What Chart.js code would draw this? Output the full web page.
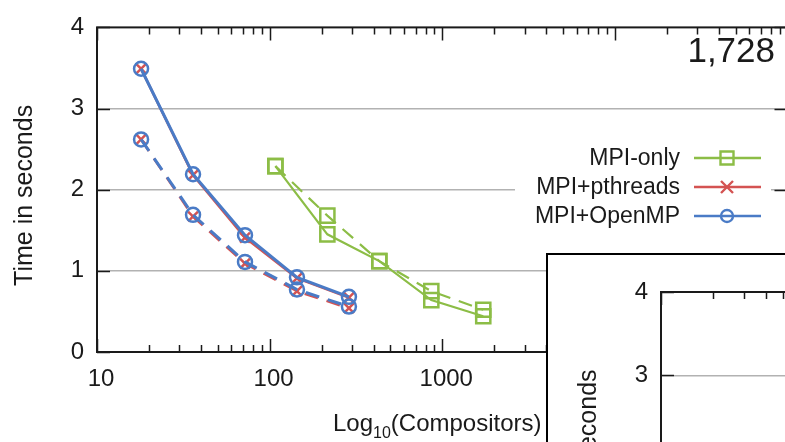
<!DOCTYPE html>
<html>
<head>
<meta charset="utf-8">
<script src="https://cdn.jsdelivr.net/npm/chart.js@4/dist/chart.umd.min.js"></script>
<style>
  html, body { margin: 0; padding: 0; background: #fff; }
  body { width: 785px; height: 442px; overflow: hidden; position: relative; }
  #main { position: absolute; left: 0; top: 0; }
  #inset { position: absolute; left: 546px; top: 253px; width: 300px; height: 260px;
           border: 2px solid #000; background: #fff; overflow: hidden; }
  #insetChart { position: absolute; left: 0; top: 0; }
</style>
</head>
<body>
<canvas id="main" width="800" height="442"></canvas>
<div id="inset"><canvas id="insetChart" width="820" height="460"></canvas></div>
<script>
// values
var nodesHybrid = [18, 36, 72, 144, 288];
var nodesMpi = [108, 216, 432, 864, 1728];

var mpiOnly = [2.29, 1.45, 1.12, 0.64, 0.44];
var mpiOnlyDash = [2.29, 1.68, 1.12, 0.75, 0.52];
var pthreads = [3.49, 2.18, 1.41, 0.91, 0.67];
var pthreadsDash = [2.62, 1.67, 1.09, 0.75, 0.54];
var openmp = [3.49, 2.19, 1.44, 0.92, 0.68];
var openmpDash = [2.62, 1.69, 1.11, 0.77, 0.56];

var xTicks = [10, 100, 1000, 10000];
var yTicks = [0, 1, 2, 3, 4];

var GREEN = '#8cbd46', RED = '#d45352', BLUE = '#4a7bc6';
var FONT = '"Liberation Sans", Arial, sans-serif';

function pts(xs, ys) {
    let out = [];
    for (let i = 0; i < xs.length; i++) out.push({x: xs[i], y: ys[i]});
    return out;
}

function series(label, xs, ys, color, style, radius, dashed, width, order) {
    return {
        label: label,
        data: pts(xs, ys),
        order: order,
        borderColor: color,
        borderWidth: width,
        borderDash: dashed ? [14, 9] : [],
        pointStyle: style,
        pointRadius: radius,
        pointBorderColor: color,
        pointBorderWidth: 2.5,
        pointBackgroundColor: 'rgba(0,0,0,0)',
        tension: 0,
        fill: false
    };
}

var legendItems = [
    {text: 'MPI-only', color: GREEN, style: 'square'},
    {text: 'MPI+pthreads', color: RED, style: 'cross'},
    {text: 'MPI+OpenMP', color: BLUE, style: 'circle'}
];

function drawMarker(ctx, style, x, y, color) {
    ctx.strokeStyle = color;
    ctx.lineWidth = 2.4;
    ctx.beginPath();
    if (style == 'square') {
        ctx.rect(x - 6.5, y - 6.5, 13, 13);
    } else if (style == 'cross') {
        ctx.moveTo(x - 6, y - 6); ctx.lineTo(x + 6, y + 6);
        ctx.moveTo(x + 6, y - 6); ctx.lineTo(x - 6, y + 6);
    } else {
        ctx.arc(x, y, 6, 0, Math.PI * 2);
    }
    ctx.stroke();
}

// frame, inward ticks, titles and legend
var decorate = {
    id: 'decorate',
    afterDraw: function(chart, args, opts) {
        var ctx = chart.ctx, a = chart.chartArea;
        var xs = chart.scales.x, ys = chart.scales.y;
        ctx.save();
        ctx.strokeStyle = '#1a1a1a';
        ctx.lineWidth = 1.5;
        ctx.beginPath();
        for (let d = 10; d < 100000; d *= 10) {
            for (let k = 1; k < 10; k++) {
                let px = Math.round(xs.getPixelForValue(d * k)) + 0.5;
                let len = k == 1 ? 13 : 7;
                ctx.moveTo(px, a.top); ctx.lineTo(px, a.top + len);
                ctx.moveTo(px, a.bottom); ctx.lineTo(px, a.bottom - len);
            }
        }
        for (let i = 0; i < yTicks.length; i++) {
            let py = Math.round(ys.getPixelForValue(yTicks[i])) + 0.5;
            ctx.moveTo(a.left, py); ctx.lineTo(a.left + 13, py);
            ctx.moveTo(a.right, py); ctx.lineTo(a.right - 13, py);
        }
        ctx.stroke();
        ctx.lineWidth = 2;
        ctx.strokeRect(a.left, a.top, a.right - a.left, a.bottom - a.top);

        // y title
        ctx.fillStyle = '#1a1a1a';
        ctx.save();
        ctx.translate(a.left - 72, a.top + 168);
        ctx.rotate(-Math.PI / 2);
        ctx.font = '25px ' + FONT;
        ctx.textAlign = 'center';
        ctx.textBaseline = 'middle';
        ctx.fillText('Time in seconds', 0, 0);
        ctx.restore();

        // x title with subscript
        ctx.textAlign = 'left';
        ctx.textBaseline = 'alphabetic';
        let tx = a.left + 236, ty = a.bottom + 79;
        ctx.font = '24px ' + FONT;
        ctx.fillText('Log', tx, ty);
        tx += ctx.measureText('Log').width;
        ctx.font = '16px ' + FONT;
        ctx.fillText('10', tx, ty + 7);
        tx += ctx.measureText('10').width;
        ctx.font = '24px ' + FONT;
        ctx.fillText('(Compositors)', tx, ty);

        if (opts.label) {
            ctx.font = '35px ' + FONT;
            ctx.textAlign = 'right';
            ctx.fillText(opts.label, 775, 62);
        }

        if (opts.legend) {
            ctx.fillStyle = '#fff';
            ctx.fillRect(515, 143, 256, 88);
            ctx.font = '23px ' + FONT;
            ctx.textAlign = 'right';
            ctx.textBaseline = 'middle';
            for (let i = 0; i < legendItems.length; i++) {
                let it = legendItems[i];
                let ry = 158 + i * 29;
                ctx.fillStyle = '#1a1a1a';
                ctx.fillText(it.text, 680, ry + 1);
                ctx.strokeStyle = it.color;
                ctx.lineWidth = 2.5;
                ctx.beginPath();
                ctx.moveTo(694, ry); ctx.lineTo(761, ry);
                ctx.stroke();
                drawMarker(ctx, it.style, 727, ry, it.color);
            }
        }
        ctx.restore();
    }
};

function makeConfig(datasets, padLeft, padTop, deco) {
    return {
        type: 'line',
        data: {datasets: datasets},
        options: {
            responsive: false,
            animation: false,
            layout: {padding: {left: padLeft, top: padTop, right: 11, bottom: 0}},
            plugins: {legend: {display: false}, tooltip: {enabled: false}, decorate: deco},
            scales: {
                x: {
                    type: 'logarithmic',
                    min: 10,
                    max: 100000,
                    afterFit: function(s) { s.height = 90; },
                    afterBuildTicks: function(s) {
                        s.ticks = xTicks.map(function(v) { return {value: v}; });
                    },
                    grid: {display: false, drawTicks: false},
                    border: {display: false},
                    ticks: {
                        autoSkip: false, maxRotation: 0, padding: 13, labelOffset: 4,
                        color: '#1a1a1a', font: {family: FONT, size: 24},
                        callback: function(v) { return String(v); }
                    }
                },
                y: {
                    type: 'linear',
                    min: 0,
                    max: 4,
                    afterFit: function(s) { s.width = 97; },
                    grid: {
                        drawTicks: false, lineWidth: 1.5,
                        color: function(c) { return (c.tick.value == 0 || c.tick.value == 4) ? 'rgba(0,0,0,0)' : '#b2b2b2'; }
                    },
                    border: {display: false},
                    ticks: {stepSize: 1, padding: 13, color: '#1a1a1a', font: {family: FONT, size: 24}}
                }
            }
        },
        plugins: [decorate]
    };
}

// lower order is drawn on top: blue over red over green
var mainSets = [
    series('MPI-only', nodesMpi, mpiOnly, GREEN, 'rect', 10, false, 2.2, 3),
    series('MPI-only (dashed)', nodesMpi, mpiOnlyDash, GREEN, 'rect', 10, true, 2.2, 3),
    series('MPI+pthreads', nodesHybrid, pthreads, RED, 'crossRot', 7, false, 2.6, 2),
    series('MPI+pthreads (dashed)', nodesHybrid, pthreadsDash, RED, 'crossRot', 7, true, 2.6, 2),
    series('MPI+OpenMP', nodesHybrid, openmp, BLUE, 'circle', 7, false, 3, 1),
    series('MPI+OpenMP (dashed)', nodesHybrid, openmpDash, BLUE, 'circle', 7, true, 3, 1)
];

new Chart(document.getElementById('main'), makeConfig(mainSets, 0, 22, {legend: true, label: '1,728'}));
// second figure pasted over the lower right corner, only its top left is visible
new Chart(document.getElementById('insetChart'), makeConfig([], 16, 37, {legend: false}));
</script>
</body>
</html>
